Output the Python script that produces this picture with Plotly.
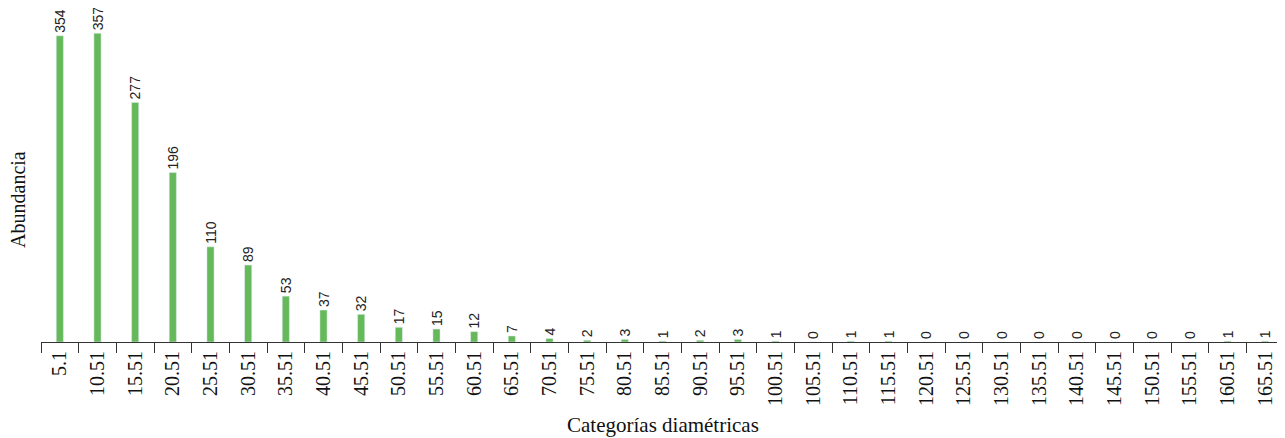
import plotly.graph_objects as go

categories = ["5.1", "10.51", "15.51", "20.51", "25.51", "30.51", "35.51", "40.51", "45.51",
              "50.51", "55.51", "60.51", "65.51", "70.51", "75.51", "80.51", "85.51", "90.51",
              "95.51", "100.51", "105.51", "110.51", "115.51", "120.51", "125.51", "130.51",
              "135.51", "140.51", "145.51", "150.51", "155.51", "160.51", "165.51"]
abundancia = [354, 357, 277, 196, 110, 89, 53, 37, 32, 17, 15, 12, 7, 4, 2, 3, 1, 2, 3, 1,
              0, 1, 1, 0, 0, 0, 0, 0, 0, 0, 0, 1, 1]

fig = go.Figure(go.Bar(
    x=categories, y=abundancia,
    marker_color="#66b95a",
    text=[str(v) for v in abundancia],
    textposition="outside",
    textangle=-90,
    constraintext="none",
    textfont=dict(family="Liberation Sans", size=14, color="#222"),
    cliponaxis=False,
))

fig.update_layout(
    width=1285, height=430,
    margin=dict(l=33, r=9, t=14, b=96, autoexpand=False),
    plot_bgcolor="white", paper_bgcolor="white",
    bargap=0.81,
    showlegend=False,
    font=dict(family="Liberation Serif", size=20, color="#111"),
    annotations=[
        dict(text="Abundancia", xref="paper", yref="paper", x=0, y=0.444,
             xshift=-23, textangle=-90, showarrow=False,
             xanchor="center", yanchor="middle",
             font=dict(family="Liberation Serif", size=20, color="#111")),
        dict(text="Categorías diamétricas", xref="paper", yref="paper", x=0.5, y=0,
             yshift=-83, showarrow=False, xanchor="center", yanchor="middle",
             font=dict(family="Liberation Serif", size=21, color="#111")),
    ],
)
fig.update_xaxes(
    type="category",
    tickangle=-90,
    tickson="boundaries",
    ticks="outside", ticklen=10, tickcolor="#333", tickwidth=1,
    showline=True, linecolor="#333", linewidth=1,
    showgrid=False, automargin=False,
    tickfont=dict(family="Liberation Serif", size=20, color="#111"),
)
fig.update_yaxes(
    range=[0, 370], automargin=False,
    showticklabels=False, showgrid=False, zeroline=False, showline=False,
)

fig.write_html("out.html")
